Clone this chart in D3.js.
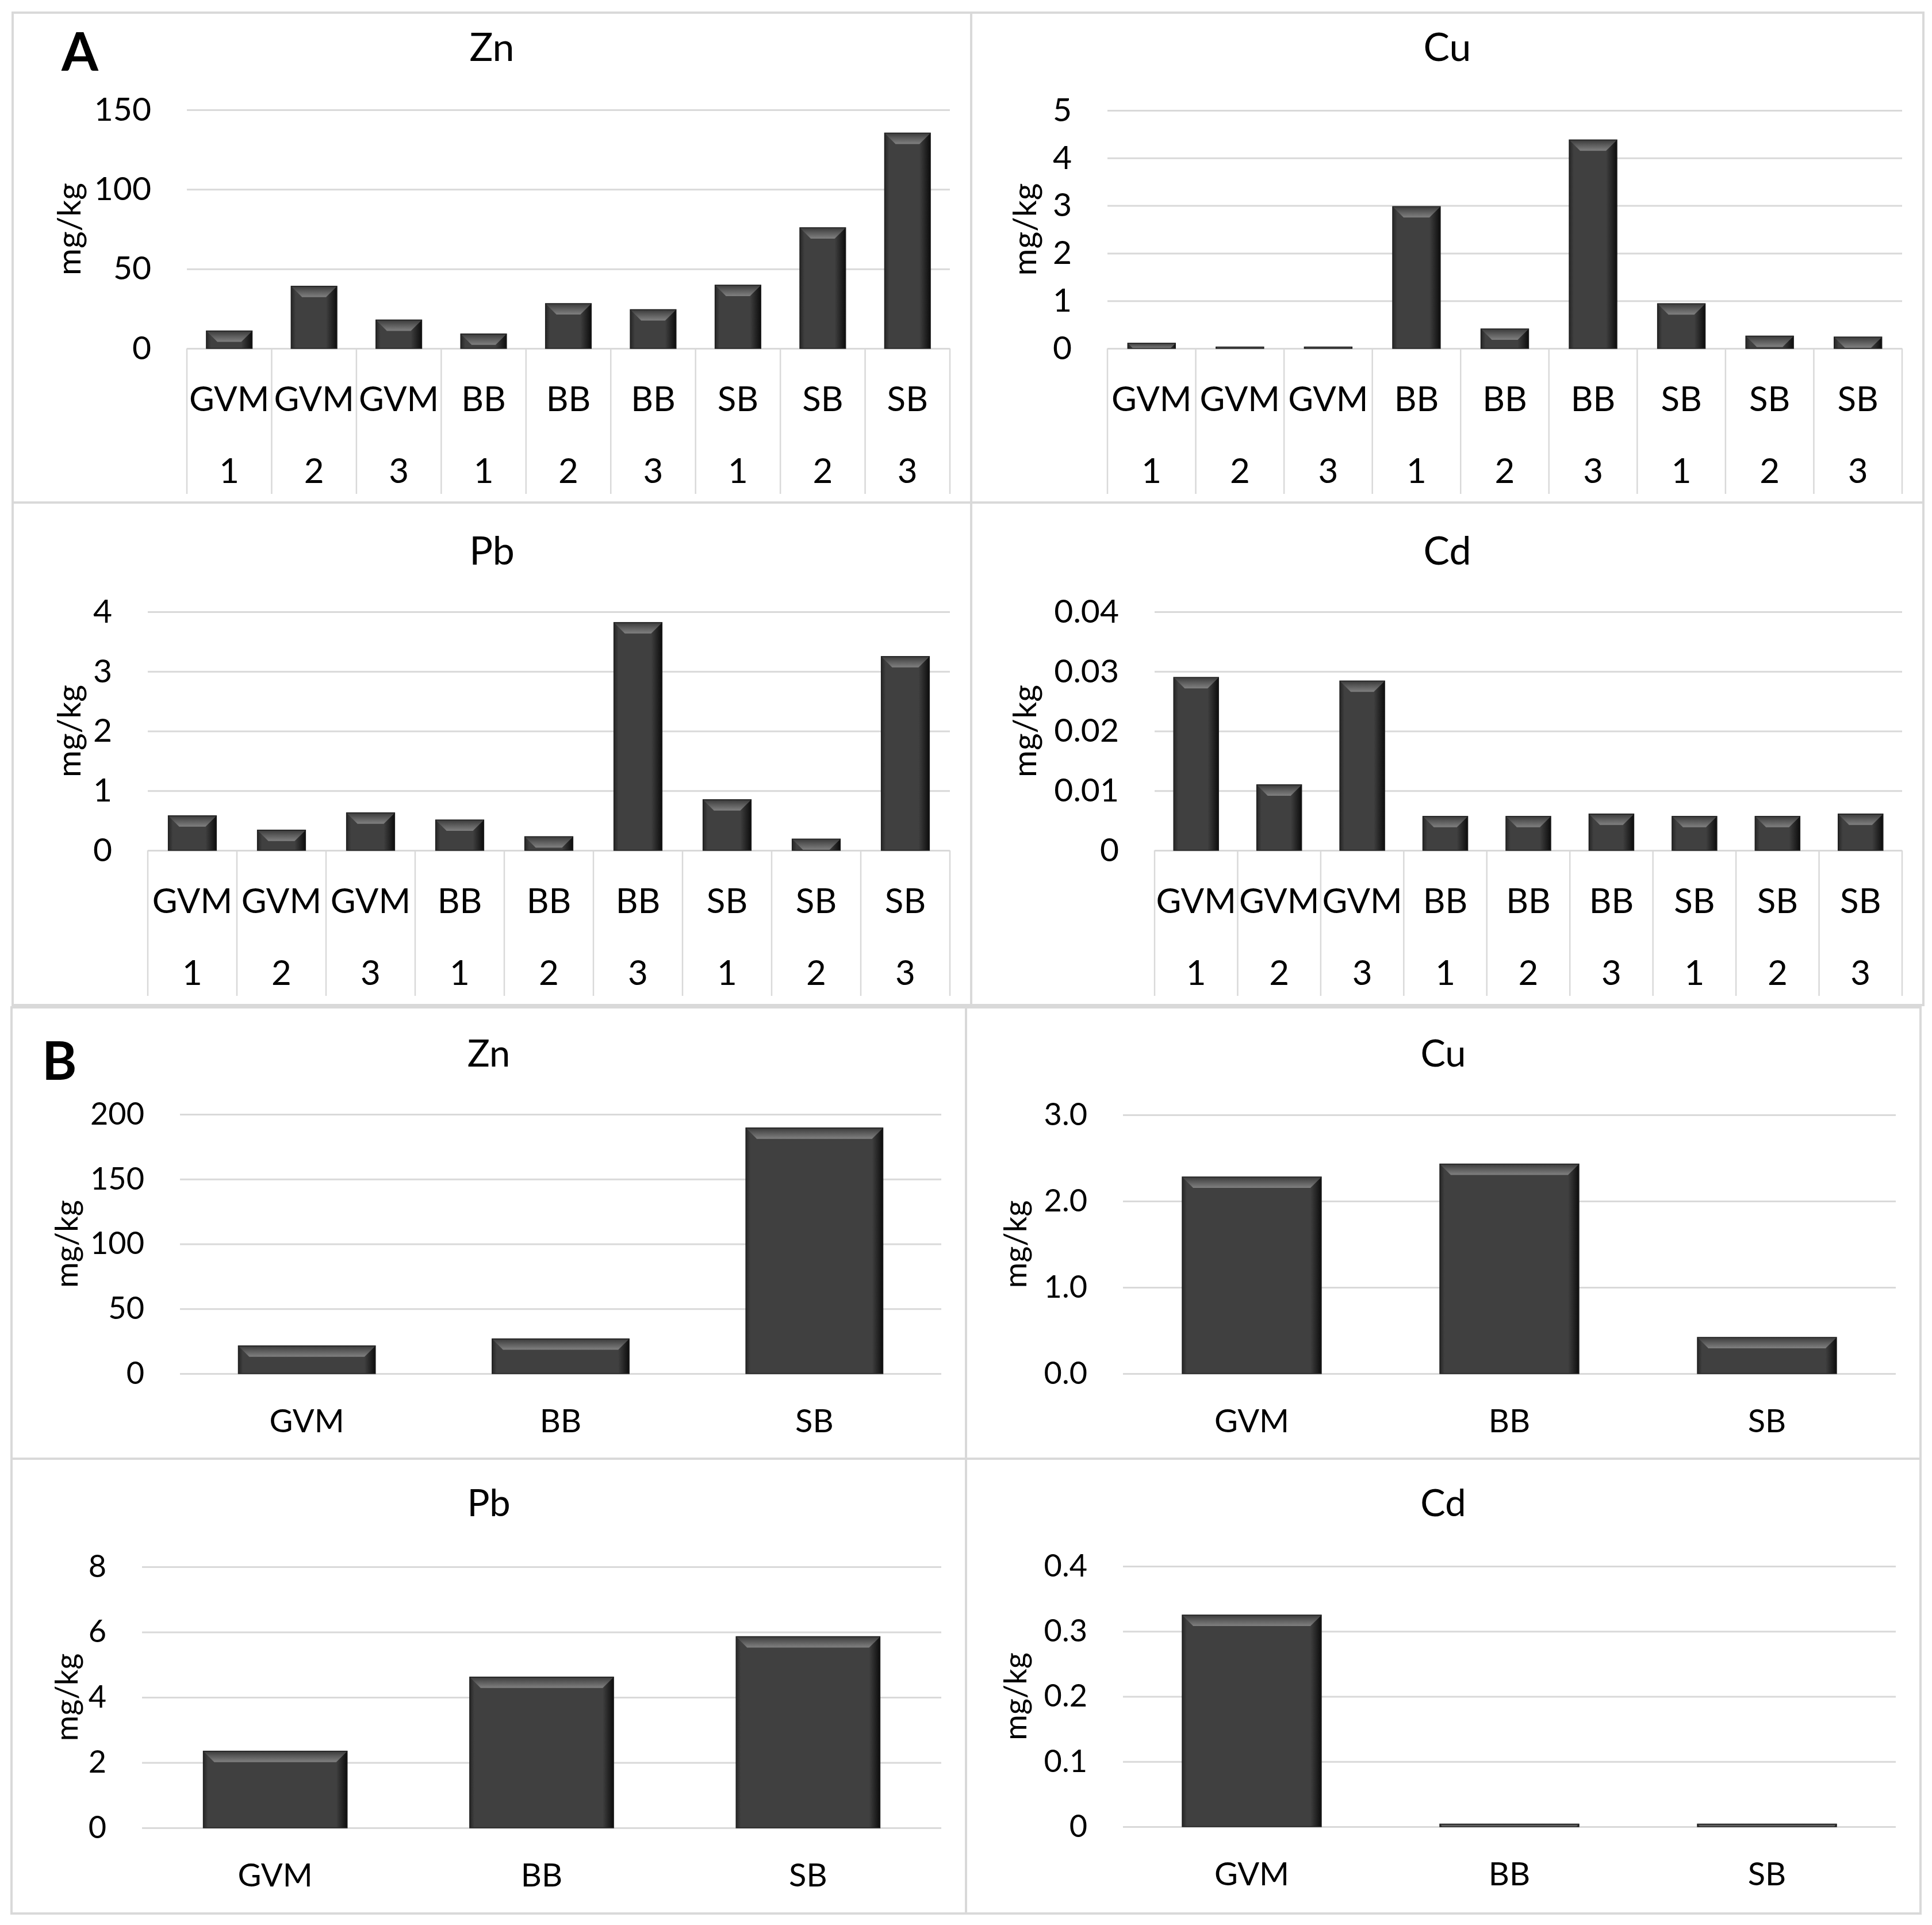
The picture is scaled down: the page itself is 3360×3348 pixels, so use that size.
<!DOCTYPE html>
<html lang="en">
  <head>
    <meta charset="UTF-8">
    <title>Metal concentrations - A and B</title>
    <style>
      body { margin: 0; background: #fff; }
      text { font-family: Lato, "Open Sans", sans-serif; fill: #000; }
      .grid line { stroke: #d9d9d9; stroke-width: 3px; }
      .grid path { display: none; }
      .ticks path { display: none; }
      .box { fill: none; stroke: #d9d9d9; stroke-width: 4px; }
      .catline { stroke: #d9d9d9; stroke-width: 2.5px; }
    </style>
  </head>
  <body>
    <script src="https://d3js.org/d3.v7.min.js"></script>
    <script>
      // categories
      const sitesA = ["GVM", "GVM", "GVM", "BB", "BB", "BB", "SB", "SB", "SB"];
      const repsA = ["1", "2", "3", "1", "2", "3", "1", "2", "3"];
      const sitesB = ["GVM", "BB", "SB"];

      // A: per sample (mg/kg)
      const znA = [11.0, 39.1, 17.9, 9.1, 28.2, 24.4, 39.8, 75.9, 135.4];
      const cuA = [0.11, 0.03, 0.03, 2.98, 0.41, 4.38, 0.94, 0.26, 0.24];
      const pbA = [0.58, 0.34, 0.63, 0.51, 0.23, 3.82, 0.85, 0.19, 3.25];
      const cdA = [0.0290, 0.0110, 0.0284, 0.0057, 0.0057, 0.0061, 0.0057, 0.0057, 0.0061];

      // B: per site (mg/kg)
      const znB = [21.4, 26.8, 189.5];
      const cuB = [2.28, 2.43, 0.42];
      const pbB = [2.35, 4.62, 5.86];
      const cdB = [0.325, 0.004, 0.004];

      // tick values / labels
      const znATicks = [0, 50, 100, 150];
      const cuATicks = [0, 1, 2, 3, 4, 5];
      const pbATicks = [0, 1, 2, 3, 4];
      const cdATicks = [0, 0.01, 0.02, 0.03, 0.04];
      const znBTicks = [0, 50, 100, 150, 200];
      const cuBTicks = [0, 1, 2, 3];
      const pbBTicks = [0, 2, 4, 6, 8];
      const cdBTicks = [0, 0.1, 0.2, 0.3, 0.4];

      const W = 3360, H = 3348;

      const svg = d3.select("body").append("svg")
        .attr("width", W)
        .attr("height", H);

      svg.append("rect").attr("width", W).attr("height", H).attr("fill", "#fff");

      // bevel gradients
      const defs = svg.append("defs");
      const topGrad = defs.append("linearGradient").attr("id", "bevTop")
        .attr("x1", 0).attr("y1", 0).attr("x2", 0).attr("y2", 1);
      topGrad.append("stop").attr("offset", 0).attr("stop-color", "#3a3a3a");
      topGrad.append("stop").attr("offset", 0.5).attr("stop-color", "#5e5e5e");
      topGrad.append("stop").attr("offset", 1).attr("stop-color", "#808080");
      const rightGrad = defs.append("linearGradient").attr("id", "bevRight")
        .attr("x1", 0).attr("y1", 0).attr("x2", 1).attr("y2", 0);
      rightGrad.append("stop").attr("offset", 0).attr("stop-color", "#404040");
      rightGrad.append("stop").attr("offset", 1).attr("stop-color", "#0c0c0c");
      const leftGrad = defs.append("linearGradient").attr("id", "bevLeft")
        .attr("x1", 0).attr("y1", 0).attr("x2", 1).attr("y2", 0);
      leftGrad.append("stop").attr("offset", 0).attr("stop-color", "#262626");
      leftGrad.append("stop").attr("offset", 1).attr("stop-color", "#404040");

      // panel layout
      const panels = [
        { title: "Zn", values: znA, ticks: znATicks, fmt: d => d, box: [22, 22, 1689, 874],
          plot: { left: 325, right: 1652, top: 191, bottom: 606 }, titleY: 106, ylabX: 118, part: "A" },
        { title: "Cu", values: cuA, ticks: cuATicks, fmt: d => d, box: [1689, 22, 3345, 874],
          plot: { left: 1926, right: 3308, top: 192, bottom: 606 }, titleY: 106, ylabX: 1780, part: "A" },
        { title: "Pb", values: pbA, ticks: pbATicks, fmt: d => d, box: [22, 874, 1689, 1748],
          plot: { left: 257, right: 1652, top: 1064, bottom: 1479 }, titleY: 982, ylabX: 118, part: "A" },
        { title: "Cd", values: cdA, ticks: cdATicks, fmt: d => d === 0 ? "0" : d3.format(".2f")(d), box: [1689, 874, 3345, 1748],
          plot: { left: 2008, right: 3308, top: 1064, bottom: 1479 }, titleY: 982, ylabX: 1780, part: "A" },
        { title: "Zn", values: znB, ticks: znBTicks, fmt: d => d, box: [20, 1752, 1680, 2537],
          plot: { left: 313, right: 1637, top: 1938, bottom: 2389 }, titleY: 1855, ylabX: 114, part: "B" },
        { title: "Cu", values: cuB, ticks: cuBTicks, fmt: d3.format(".1f"), box: [1680, 1752, 3340, 2537],
          plot: { left: 1953, right: 3297, top: 1939, bottom: 2389 }, titleY: 1855, ylabX: 1764, part: "B" },
        { title: "Pb", values: pbB, ticks: pbBTicks, fmt: d => d, box: [20, 2537, 1680, 3328],
          plot: { left: 247, right: 1637, top: 2725, bottom: 3179 }, titleY: 2637, ylabX: 114, part: "B" },
        { title: "Cd", values: cdB, ticks: cdBTicks, fmt: d => d === 0 ? "0" : d3.format(".1f")(d), box: [1680, 2537, 3340, 3328],
          plot: { left: 1953, right: 3297, top: 2724, bottom: 3177 }, titleY: 2637, ylabX: 1764, part: "B" }
      ];

      function drawBar(g, x, y, w, h) {
        const b = Math.min(19, w / 2, h);
        g.append("rect").attr("x", x).attr("y", y).attr("width", w).attr("height", h)
          .attr("fill", "#404040");
        // left edge
        g.append("rect").attr("x", x).attr("y", y).attr("width", Math.min(8, w / 4)).attr("height", h)
          .attr("fill", "url(#bevLeft)");
        // right edge
        g.append("path")
          .attr("d", `M${x + w - b},${y + b} L${x + w},${y} L${x + w},${y + h} L${x + w - b},${y + h} Z`)
          .attr("fill", "url(#bevRight)");
        // top bevel
        g.append("path")
          .attr("d", `M${x},${y} L${x + w},${y} L${x + w - b},${y + b} L${x + b},${y + b} Z`)
          .attr("fill", "url(#bevTop)");
        g.append("rect").attr("x", x).attr("y", y).attr("width", w).attr("height", h)
          .attr("fill", "none").attr("stroke", "#1e1e1e").attr("stroke-width", 1.5);
      }

      panels.forEach(p => {
        const isA = p.part === "A";
        const fs = isA ? 60 : 56;      // category labels
        const tickFs = isA ? 57 : 54;  // value axis
        const titleFs = isA ? 68 : 65;
        const g = svg.append("g");

        g.append("rect").attr("class", "box")
          .attr("x", p.box[0]).attr("y", p.box[1])
          .attr("width", p.box[2] - p.box[0]).attr("height", p.box[3] - p.box[1]);

        // title
        g.append("text")
          .attr("x", (p.box[0] + p.box[2]) / 2)
          .attr("y", p.titleY)
          .attr("text-anchor", "middle")
          .attr("font-size", titleFs)
          .text(p.title);

        const keys = isA ? sitesA.map((s, i) => s + " " + repsA[i]) : sitesB;

        const x = d3.scaleBand()
          .domain(keys)
          .range([p.plot.left, p.plot.right])
          .paddingInner(0.46)
          .paddingOuter(0.23);

        const y = d3.scaleLinear()
          .domain([0, d3.max(p.ticks)])
          .range([p.plot.bottom, p.plot.top]);

        // gridlines
        g.append("g").attr("class", "grid")
          .attr("transform", `translate(${p.plot.left},0)`)
          .call(d3.axisLeft(y).tickValues(p.ticks).tickSize(-(p.plot.right - p.plot.left)).tickFormat(""));

        // tick labels
        const ta = g.append("g").attr("class", "ticks")
          .attr("transform", `translate(${p.plot.left},0)`)
          .call(d3.axisLeft(y).tickValues(p.ticks).tickSize(0).tickPadding(62).tickFormat(p.fmt));
        ta.selectAll("text").attr("font-size", tickFs).attr("fill", "#000")
          .style("font-family", "Lato, 'Open Sans', sans-serif");

        // y label
        g.append("text")
          .attr("transform", `translate(${p.ylabX},${(p.plot.top + p.plot.bottom) / 2}) rotate(-90)`)
          .attr("text-anchor", "middle")
          .attr("dominant-baseline", "central")
          .attr("font-size", tickFs)
          .text("mg/kg");

        // bars
        const bars = g.append("g");
        p.values.forEach((v, i) => {
          const bx = x(keys[i]);
          const by = y(v);
          drawBar(bars, bx, by, x.bandwidth(), y(0) - by);
        });

        // category axis
        if (isA) {
          const step = x.step();
          const x0 = x.range()[0];
          d3.range(keys.length + 1).forEach(i => {
            g.append("line").attr("class", "catline")
              .attr("x1", x0 + i * step).attr("x2", x0 + i * step)
              .attr("y1", p.plot.bottom).attr("y2", p.plot.bottom + 253);
          });
          keys.forEach((k, i) => {
            const cx = x(k) + x.bandwidth() / 2;
            g.append("text").attr("x", cx).attr("y", p.plot.bottom + 109)
              .attr("text-anchor", "middle").attr("font-size", fs).text(sitesA[i]);
            g.append("text").attr("x", cx).attr("y", p.plot.bottom + 234)
              .attr("text-anchor", "middle").attr("font-size", fs).text(repsA[i]);
          });
        } else {
          keys.forEach(k => {
            g.append("text").attr("x", x(k) + x.bandwidth() / 2).attr("y", p.plot.bottom + 102)
              .attr("text-anchor", "middle").attr("font-size", fs).text(k);
          });
        }
      });

      // part letters
      svg.append("text").attr("x", 107).attr("y", 123)
        .attr("font-size", 92).attr("font-weight", "bold").text("A");
      svg.append("text").attr("x", 73).attr("y", 1878)
        .attr("font-size", 92).attr("font-weight", "bold").text("B");
    </script>
  </body>
</html>
